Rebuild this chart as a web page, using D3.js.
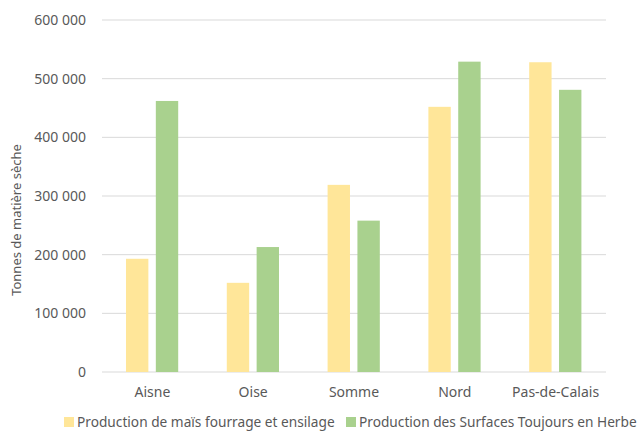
<!DOCTYPE html>
<html>
<head>
<meta charset="utf-8">
<script src="https://cdn.jsdelivr.net/npm/d3@7"></script>
<style>
  body { margin: 0; background: #fff; }
  text { font-family: "Noto Sans", "Open Sans", sans-serif; fill: #595959; }
</style>
</head>
<body>
<svg id="chart"></svg>
<script>
const departements = ["Aisne", "Oise", "Somme", "Nord", "Pas-de-Calais"];
const seriesNames = ["Production de maïs fourrage et ensilage", "Production des Surfaces Toujours en Herbe"];
const mais = [193000, 152000, 319000, 452000, 528000];
const sth = [462000, 213000, 258000, 529000, 481000];
const yTicks = [0, 100000, 200000, 300000, 400000, 500000, 600000];
const colors = ["#FFE699", "#A9D18E"];

const width = 643, height = 432;
const margin = {top: 20, right: 37, bottom: 60, left: 102};

const svg = d3.select("#chart")
    .attr("width", width)
    .attr("height", height);

const x = d3.scaleBand(departements, [margin.left, width - margin.right]);
// two bars sit in the middle half of each category band
const xSeries = d3.scaleBand([0, 1], [x.bandwidth() * 0.238, x.bandwidth() * 0.756]).paddingInner(0.25);
const y = d3.scaleLinear([0, 600000], [height - margin.bottom, margin.top]);

const fmt = d => d3.format(",")(d).replace(/,/g, " ");

// Grid
svg.append("g")
    .selectAll("line")
    .data(yTicks)
    .join("line")
    .attr("x1", margin.left)
    .attr("x2", width - margin.right)
    .attr("y1", d => y(d))
    .attr("y2", d => y(d))
    .attr("stroke", "#d9d9d9")
    .attr("stroke-width", 1);

// Y labels
svg.append("g")
    .selectAll("text")
    .data(yTicks)
    .join("text")
    .attr("x", 86)
    .attr("y", d => y(d))
    .attr("dy", "0.36em")
    .attr("text-anchor", "end")
    .attr("font-size", 14)
    .text(fmt);

// Y title
svg.append("text")
    .attr("transform", `translate(21,220) rotate(-90)`)
    .attr("text-anchor", "middle")
    .attr("font-size", 13)
    .text("Tonnes de matière sèche");

// Bars
const data = departements.map((d, i) => ({name: d, values: [mais[i], sth[i]]}));
svg.append("g")
    .selectAll("g")
    .data(data)
    .join("g")
    .attr("transform", d => `translate(${x(d.name)},0)`)
    .selectAll("rect")
    .data(d => d.values)
    .join("rect")
    .attr("x", (v, i) => xSeries(i))
    .attr("width", xSeries.bandwidth())
    .attr("y", v => y(v))
    .attr("height", v => y(0) - y(v))
    .attr("fill", (v, i) => colors[i]);

// X labels
svg.append("g")
    .selectAll("text")
    .data(departements)
    .join("text")
    .attr("x", d => x(d) + x.bandwidth() / 2)
    .attr("y", y(0) + 25)
    .attr("text-anchor", "middle")
    .attr("font-size", 14)
    .text(d => d);

// Legend
const legend = svg.append("g").attr("transform", "translate(64,427)");
const legX = [0, 282];
seriesNames.forEach((name, i) => {
    const g = legend.append("g").attr("transform", `translate(${legX[i]},0)`);
    g.append("rect").attr("x", 0).attr("y", -10).attr("width", 10).attr("height", 10).attr("fill", colors[i]);
    g.append("text").attr("x", 13).attr("y", 0).attr("font-size", 13.7).text(name);
});
</script>
</body>
</html>
